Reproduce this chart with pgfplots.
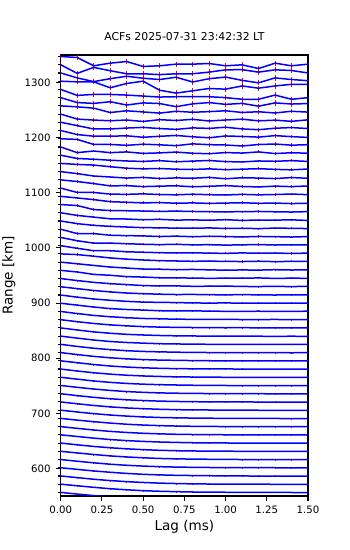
\documentclass[border=0pt]{standalone}
\usepackage{pgfplots}
\usepackage{pgfplotstable}
\pgfplotsset{compat=1.18}
\usepackage{fontspec}
\setmainfont{DejaVu Sans}
% normalised ACF (percent) per range gate k (rows) and lag in ms (columns)
\pgfplotstableread{
k 0 0.1 0.2 0.3 0.4 0.5 0.6 0.7 0.8 0.9 1.0 1.1 1.2 1.3 1.4 1.5
0 100 80 61 44 31 21 13 8 5 3 1 0 -1 -1 -1 -1
1 100 81 62 45 32 21 14 9 5 3 2 1 0 -1 -1 -2
2 100 80 60 44 31 21 13 8 4 2 1 0 0 -1 -1 -1
3 100 80 61 45 31 20 13 8 5 3 1 0 -1 -1 -2 -2
4 100 79 60 43 30 20 13 8 5 3 2 1 0 0 -1 -1
5 100 80 61 44 31 21 13 8 5 3 1 0 -1 -1 -1 -2
6 100 79 59 43 30 20 12 7 4 2 1 0 -1 -2 -2 -2
7 100 80 60 43 30 20 13 8 4 2 1 0 0 -1 -1 -1
8 100 79 59 42 29 19 12 7 4 2 1 0 -1 -1 -1 -2
9 100 79 60 43 29 19 12 7 4 2 1 0 0 -1 -1 -1
10 100 78 58 41 28 18 11 7 4 2 1 0 -1 -1 -2 -2
11 100 78 57 40 27 18 11 6 3 2 1 0 -1 -1 -1 -1
12 100 77 56 39 26 17 10 6 3 1 0 0 -1 -1 -2 -1
13 100 78 57 40 26 17 10 6 4 2 1 0 0 -1 -1 -2
14 100 77 55 38 25 16 10 6 3 2 0 -1 -1 -1 -1 -1
15 100 76 55 38 25 16 10 5 3 1 0 0 -1 -2 -1 -2
16 100 77 55 37 24 15 9 5 3 2 1 0 -1 -1 -1 -1
17 100 76 54 37 24 15 9 6 3 1 0 -1 -1 0 -1 -2
18 100 75 53 36 23 14 9 5 2 1 0 0 -1 -1 -2 -1
19 100 76 53 35 23 15 8 5 3 1 1 0 -1 -1 -1 -1
20 100 75 52 35 22 14 8 4 2 1 0 -1 -1 -2 -1 -2
21 100 76 54 37 25 16 10 7 5 3 2 3 1 2 0 1
22 100 75 52 36 24 15 11 6 5 3 4 2 1 3 0 2
23 100 77 54 35 24 17 9 7 8 4 2 1 3 0 2 3
24 100 74 52 36 23 14 11 8 4 2 4 1 0 3 1 0
25 100 78 55 38 24 16 10 6 7 4 2 5 2 0 3 1
26 100 76 54 38 27 15 10 11 6 7 9 4 3 6 2 7
27 100 80 51 40 24 18 10 9 6 3 5 4 8 2 5 3
28 100 80 60 40 28 16 14 8 11 6 2 5 3 8 4 6
29 100 92 72 51 36 26 18 14 10 12 9 7 11 6 9 8
30 100 68 39 39 26 20 15 11 14 9 7 12 8 11 5 10
31 100 60 31 31 24 17 13 17 10 12 7 10 14 8 11 9
32 100 47 47 27 22 19 11 16 9 14 11 6 12 10 5 11
33 100 68 47 35 27 19 17 13 12 16 9 12 7 14 11 8
34 100 68 47 27 24 15 20 11 14 9 16 7 12 11 14 7
35 100 88 39 27 25 21 17 20 16 13 11 14 16 12 9 14
36 100 80 60 35 28 20 24 16 20 14 18 22 15 18 12 16
37 100 47 47 27 24 30 22 18 26 20 16 24 18 22 28 20
38 100 80 55 27 30 18 24 28 16 22 30 20 14 24 18 26
39 100 76 47 35 22 30 16 24 20 30 14 26 22 16 28 20
40 100 88 80 60 42 34 38 30 26 34 24 30 36 28 22 32
41 100 60 51 39 30 24 34 20 28 36 22 18 30 26 34 24
42 100 31 51 31 40 22 28 38 24 18 32 26 40 20 30 24
43 100 92 31 31 20 34 26 16 38 28 24 12 30 36 22 28
44 100 51 31 31 36 18 30 40 24 12 34 28 20 38 26 16
45 100 60 19 19 30 38 24 14 32 26 40 20 10 28 36 24
46 100 39 27 19 28 10 32 22 36 16 28 38 18 26 12 30
47 100 88 72 19 40 26 12 34 22 30 40 20 28 14 34 24
48 100 40 30 50 10 36 28 -10 24 40 18 30 -4 36 22 28
49 100 27 39 39 31 19 7 11 11 11 0 -20 -20 31 -20 0
50 100 92 92 20 72 100 -10 -45 -17 11 3 42 15 42 62 62
51 100 40 -5 30 60 36 20 48 -10 30 50 10 -20 40 20 6
52 100 -5 68 27 -10 -10 -20 -10 -10 10 38 40 10 38 30 0
53 100 88 -13 19 39 -21 -13 7 7 15 -13 -1 -46 19 -13 7
}\acfraw
\pgfplotstabletranspose[colnames from=k]\acf\acfraw
\pgfplotsset{
  errstyle/.style={draw=none, mark=none, forget plot,
    error bars/.cd, y dir=both, y fixed=#1, error mark=none,
    error bar style={draw=red, line width=1bp}},
}
\begin{document}%
\begin{tikzpicture}
\useasboundingbox (0,0) rectangle (350bp,550bp);
\begin{axis}[
  at={(60.7bp,54bp)}, anchor=south west,
  scale only axis, width=247.3bp, height=441bp,
  xmin=0, xmax=1.5, ymin=550, ymax=1350,
  clip=true,
  axis line style={line width=1.1bp},
  tick style={line width=1.1bp, black},
  major tick length=4.9bp, minor tick length=2.8bp,
  tick align=outside, xtick pos=bottom, ytick pos=left,
  xtick={0,0.25,0.5,0.75,1,1.25,1.5},
  ytick={600,700,800,900,1000,1100,1200,1300},
  minor ytick={556.5,571.42,...,1348},
  /pgf/number format/assume math mode=true,
  /pgf/number format/1000 sep={},
  xticklabel={\pgfmathprintnumber[fixed,fixed zerofill,precision=2]{\tick}},
  ticklabel style={font=\fontsize{10.2}{12}\selectfont},
  xticklabel style={anchor=base, yshift=-13bp},
  yticklabel style={anchor=east, inner sep=0pt, xshift=-5bp},
  title={ACFs 2025-07-31 23:42:32 LT},
  title style={at={(0.5,1)}, anchor=base, yshift=8.3bp, inner sep=0pt, font=\fontsize{10.9}{13}\selectfont},
  xlabel={Lag (ms)},
  xlabel style={at={(axis description cs:0.5,0)}, anchor=base, yshift=-34.7bp, inner sep=0pt, font=\fontsize{13.6}{16}\selectfont},
  ylabel={Range [km]},
  ylabel style={at={(axis description cs:-0.2091,0.5)}, anchor=center, inner sep=0pt, font=\fontsize{13.6}{16}\selectfont},
]
% error bars (red), drawn beneath the ACF curves
\pgfplotsinvokeforeach{0,...,20}{\addplot[errstyle=1.0] table[x=colnames, y expr=\thisrow{#1}*0.1492+541.58+14.92*#1]{\acf};}
\pgfplotsinvokeforeach{21,...,28}{\addplot[errstyle=1.4] table[x=colnames, y expr=\thisrow{#1}*0.1492+541.58+14.92*#1]{\acf};}
\pgfplotsinvokeforeach{29,...,35}{\addplot[errstyle=2.0] table[x=colnames, y expr=\thisrow{#1}*0.1492+541.58+14.92*#1]{\acf};}
\pgfplotsinvokeforeach{36,...,42}{\addplot[errstyle=2.6] table[x=colnames, y expr=\thisrow{#1}*0.1492+541.58+14.92*#1]{\acf};}
\pgfplotsinvokeforeach{43,...,47}{\addplot[errstyle=3.4] table[x=colnames, y expr=\thisrow{#1}*0.1492+541.58+14.92*#1]{\acf};}
\pgfplotsinvokeforeach{48,...,53}{\addplot[errstyle=4.8] table[x=colnames, y expr=\thisrow{#1}*0.1492+541.58+14.92*#1]{\acf};}
% ACF curves (blue)
\pgfplotsinvokeforeach{0,...,53}{\addplot[blue, line width=1.5bp, line join=round, mark=none] table[x=colnames, y expr=\thisrow{#1}*0.1492+541.58+14.92*#1]{\acf};}
\end{axis}
\end{tikzpicture}%
\end{document}
